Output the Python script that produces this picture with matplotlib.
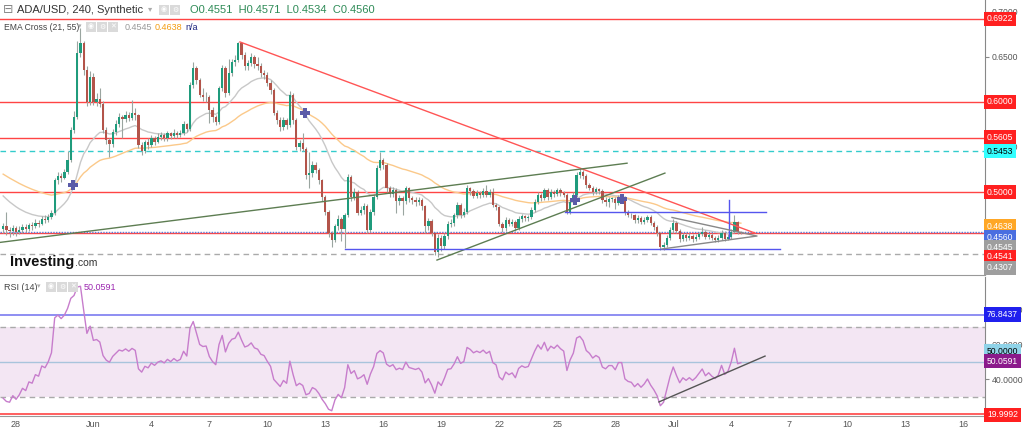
import matplotlib
matplotlib.use("Agg")
import matplotlib.pyplot as plt
import matplotlib.dates as mdates
import matplotlib.transforms as mtransforms
import numpy as np
import pandas as pd

plt.rcParams['font.family'] = ['Liberation Sans', 'DejaVu Sans']

# 4h candles, ADA/USD
start = "2019-05-27 08:00"
open_first = 0.459
close = [.462, .458, .457, .460, .456, .458, .461, .459, .463, .462,
         .466, .465, .470, .469, .472, .477, .513, .518, .516, .522,
         .536, .569, .583, .654, .665, .636, .600, .628, .600, .603,
         .598, .569, .558, .553, .567, .575, .583, .581, .586, .582,
         .588, .585, .552, .545, .555, .552, .560, .556, .561, .563,
         .560, .565, .562, .566, .563, .565, .575, .570, .619, .638,
         .624, .608, .605, .606, .591, .583, .578, .615, .638, .610,
         .632, .644, .647, .665, .652, .640, .643, .650, .642, .640,
         .632, .630, .621, .613, .588, .580, .572, .580, .574, .608,
         .580, .550, .554, .548, .519, .521, .530, .525, .513, .494,
         .478, .454, .447, .462, .470, .459, .474, .517, .494, .500,
         .477, .480, .485, .458, .478, .494, .527, .535, .530, .504,
         .498, .502, .490, .493, .490, .504, .493, .491, .489, .491,
         .484, .462, .468, .454, .433, .449, .440, .451, .465, .466,
         .474, .486, .475, .478, .504, .501, .496, .499, .497, .501,
         .497, .500, .486, .483, .465, .460, .469, .465, .467, .460,
         .470, .473, .471, .472, .480, .489, .497, .493, .502, .494,
         .500, .498, .502, .499, .497, .478, .489, .497, .519, .522,
         .518, .508, .505, .500, .503, .501, .491, .489, .492, .492,
         .488, .494, .494, .478, .475, .474, .469, .471, .467, .469,
         .472, .466, .461, .454, .439, .441, .449, .458, .466, .457,
         .448, .452, .449, .451, .448, .450, .453, .456, .450, .452,
         .449, .447, .449, .455, .448, .450, .456, .467, .4551, .4560]
high = [.466, .478, .461, .463, .462, .462, .464, .465, .466, .467,
        .470, .469, .473, .474, .476, .480, .516, .522, .521, .526,
        .546, .572, .590, .668, .682, .668, .640, .634, .632, .610,
        .615, .601, .572, .560, .570, .580, .588, .586, .590, .589,
        .602, .593, .587, .555, .558, .560, .563, .562, .565, .567,
        .566, .568, .567, .570, .568, .569, .579, .577, .622, .644,
        .640, .627, .615, .611, .608, .594, .586, .618, .641, .640,
        .648, .648, .652, .667, .666, .655, .647, .654, .652, .650,
        .643, .635, .633, .624, .615, .591, .583, .583, .582, .612,
        .610, .582, .558, .565, .550, .544, .534, .533, .527, .515,
        .497, .480, .457, .465, .474, .472, .477, .520, .519, .504,
        .502, .484, .488, .487, .481, .497, .530, .544, .538, .532,
        .507, .506, .504, .497, .496, .507, .506, .496, .494, .495,
        .493, .486, .471, .470, .456, .453, .452, .454, .468, .470,
        .477, .489, .488, .482, .508, .506, .503, .502, .501, .504,
        .508, .503, .504, .488, .485, .467, .472, .471, .470, .469,
        .473, .476, .475, .475, .483, .492, .500, .499, .505, .504,
        .503, .502, .505, .504, .501, .499, .492, .500, .522, .527,
        .525, .520, .510, .507, .506, .505, .503, .494, .495, .495,
        .494, .497, .497, .496, .480, .477, .476, .474, .473, .472,
        .475, .474, .468, .463, .456, .444, .452, .461, .470, .468,
        .459, .455, .454, .454, .453, .453, .456, .461, .458, .455,
        .454, .451, .452, .458, .457, .453, .459, .474, .468, .4571]
low = [.455, .452, .450, .452, .451, .453, .455, .456, .457, .458,
       .460, .461, .463, .466, .467, .470, .475, .509, .511, .514,
       .520, .533, .565, .581, .650, .630, .596, .597, .597, .596,
       .594, .566, .553, .539, .550, .563, .572, .560, .578, .579,
       .580, .580, .549, .541, .543, .548, .550, .552, .554, .558,
       .557, .557, .559, .560, .560, .561, .563, .567, .568, .616,
       .620, .605, .601, .600, .577, .578, .574, .576, .612, .606,
       .608, .629, .640, .644, .648, .636, .636, .640, .638, .636,
       .628, .626, .618, .609, .585, .575, .568, .569, .570, .572,
       .576, .547, .546, .545, .515, .504, .517, .521, .509, .490,
       .474, .450, .439, .444, .458, .446, .438, .472, .490, .491,
       .474, .474, .476, .455, .456, .475, .492, .524, .526, .500,
       .494, .495, .477, .486, .474, .487, .489, .487, .485, .486,
       .480, .455, .458, .451, .430, .428, .435, .437, .448, .461,
       .462, .471, .471, .472, .476, .497, .493, .493, .493, .494,
       .494, .494, .483, .480, .462, .456, .457, .462, .462, .457,
       .458, .467, .468, .468, .470, .478, .487, .490, .491, .491,
       .492, .495, .496, .496, .494, .476, .476, .487, .495, .516,
       .514, .505, .502, .497, .498, .498, .488, .485, .483, .489,
       .481, .486, .491, .475, .472, .471, .466, .466, .464, .464,
       .467, .463, .458, .451, .436, .436, .439, .447, .455, .455,
       .445, .446, .446, .447, .445, .446, .448, .451, .448, .448,
       .447, .445, .445, .447, .446, .447, .448, .454, .453, .4534]

# indicator seeds (state before first visible candle)
ema_fast_seed, ema_slow_seed = 0.499, 0.522
rsi_gain_seed, rsi_loss_seed = 0.0012, 0.0035

# horizontal levels
red_levels = [0.6922, 0.6000, 0.5605, 0.5000, 0.4541]
cyan_level = 0.5453
last_price = 0.4560
gray_level = 0.4307

# drawn lines: (time, price)
red_trend_t = ["2019-06-08 14:00", "2019-07-05 05:30"]
red_trend_p = [0.6667, 0.4544]
green_long_t = ["2019-05-27 04:00", "2019-06-28 14:40"]
green_long_p = [0.444, 0.532]
green_short_t = ["2019-06-18 18:40", "2019-06-30 13:40"]
green_short_p = [0.4244, 0.521]
blue_low_t = ["2019-06-14 00:30", "2019-07-06 12:30"]
blue_low_p = [0.4367, 0.4367]
blue_up_t = ["2019-06-25 09:40", "2019-07-05 19:00"]
blue_up_p = [0.478, 0.478]
blue_vert_t = ["2019-07-03 21:20", "2019-07-03 21:20"]
blue_vert_p = [0.449, 0.491]
tri_t = ["2019-06-30 22:30", "2019-07-05 08:00", "2019-06-30 10:00"]
tri_p = [0.4717, 0.4511, 0.4367]
cross_t = ["2019-05-30 22:45", "2019-06-11 22:50", "2019-06-25 22:00", "2019-06-28 08:25"]
cross_p = [0.508, 0.588, 0.491, 0.492]
rsi_trend_t = ["2019-06-30 06:15", "2019-07-05 18:00"]
rsi_trend_v = [26.9, 53.1]

tick_dates = ["2019-05-28", "2019-06-01", "2019-06-04", "2019-06-07", "2019-06-10",
              "2019-06-13", "2019-06-16", "2019-06-19", "2019-06-22", "2019-06-25",
              "2019-06-28", "2019-07-01", "2019-07-04", "2019-07-07", "2019-07-10",
              "2019-07-13", "2019-07-16"]
tick_labels = ["28", "Jun", "4", "7", "10", "13", "16", "19", "22", "25", "28",
               "Jul", "4", "7", "10", "13", "16"]
price_ticks = [0.55, 0.65, 0.70]
rsi_ticks = [40, 60, 80]

# ---------------------------------------------------------------
times = pd.date_range(start, periods=len(close), freq="4h")
x = mdates.date2num(times)
c = np.array(close)
o = np.array([open_first] + close[:-1])
h = np.array(high)
l = np.array(low)

def ema(vals, n, seed):
    a = 2 / (n + 1)
    out = []
    e = seed
    for v in vals:
        e = a * v + (1 - a) * e
        out.append(e)
    return np.array(out)

ema21 = ema(c, 21, ema_fast_seed)
ema55 = ema(c, 55, ema_slow_seed)

ag, al = rsi_gain_seed, rsi_loss_seed
prev = open_first
rsi = []
for v in c:
    ch = v - prev
    ag = (ag * 13 + max(ch, 0)) / 14
    al = (al * 13 + max(-ch, 0)) / 14
    rsi.append(100 - 100 / (1 + ag / al))
    prev = v
rsi = np.array(rsi)

def tx(lst):
    return mdates.date2num(pd.to_datetime(lst))

W, H = 1024, 429
fig = plt.figure(figsize=(W / 100, H / 100), dpi=100)
ax = fig.add_axes([0, 1 - 275 / H, 985 / W, 275 / H])
ax2 = fig.add_axes([0, 1 - 416 / H, 985 / W, 139 / H], sharex=ax)

base = mdates.date2num(pd.Timestamp("2019-05-28"))
ax.set_xlim(base - 0.83, base + 50.13)
ax.set_ylim(0.4078, 0.7133)
ax2.set_ylim(18.86, 98.3)

green, red = "#1f9b7c", "#b3544a"
cols = np.where(c >= o, green, red)
ax.vlines(x, l, h, color="#9aa5a0", lw=0.8, zorder=3)
body = np.maximum(np.abs(c - o), 0.0008)
ax.bar(x, body, bottom=np.minimum(o, c), width=0.12, color=cols, linewidth=0, zorder=4)

ax.plot(x, ema21, color="#c8c8c8", lw=1, zorder=2)
ax.plot(x, ema55, color="#fbc98a", lw=1, zorder=2)

for lv in red_levels:
    ax.axhline(lv, color="#ff4444", lw=1, zorder=1)
ax.axhline(cyan_level, color="#33cccc", lw=1, ls=(0, (4, 3)), zorder=1)
ax.axhline(last_price, color="#5a7fdc", lw=1, ls=(0, (1, 1)), zorder=1)
ax.axhline(gray_level, color="#aaaaaa", lw=1, ls=(0, (4, 3)), zorder=1)

ax.plot(tx(red_trend_t), red_trend_p, color="#ff5555", lw=1, zorder=5)
ax.plot(tx(green_long_t), green_long_p, color="#5d7d52", lw=1, zorder=5)
ax.plot(tx(green_short_t), green_short_p, color="#5d7d52", lw=1, zorder=5)
ax.plot(tx(blue_low_t), blue_low_p, color="#5555ee", lw=1, zorder=5)
ax.plot(tx(blue_up_t), blue_up_p, color="#5555ee", lw=1, zorder=5)
ax.plot(tx(blue_vert_t), blue_vert_p, color="#5555ee", lw=1, zorder=5)
tt = tx(tri_t)
ax.plot([tt[0], tt[1], tt[2]], [tri_p[0], tri_p[1], tri_p[2]], color="#888888", lw=1, zorder=5)
ax.plot(tx(cross_t), cross_p, ls="none", marker="P", ms=7, color="#5b5ba8",
        markeredgewidth=0, zorder=6)

# RSI panel
ax2.axhspan(30, 70, color="#f3e6f3", lw=0, zorder=0)
ax2.axhline(70, color="#aaaaaa", lw=1, ls=(0, (4, 3)))
ax2.axhline(30, color="#aaaaaa", lw=1, ls=(0, (4, 3)))
ax2.axhline(76.8437, color="#7b7bf0", lw=1.2)
ax2.axhline(50, color="#a8c4dc", lw=1)
ax2.axhline(20, color="#ff4444", lw=1.2)
ax2.plot(x, rsi, color="#c77dcc", lw=1, zorder=3)
ax2.plot(tx(rsi_trend_t), rsi_trend_v, color="#555555", lw=1, zorder=4)

for a in (ax, ax2):
    for s in ("top", "left"):
        a.spines[s].set_visible(False)
    a.spines["right"].set_color("#888888")
    a.spines["bottom"].set_color("#999999")
    a.yaxis.tick_right()
    a.tick_params(axis="y", length=3, color="#888888", labelsize=6.2,
                  labelcolor="#555555", pad=2)

ax.set_yticks(price_ticks)
ax.set_yticklabels([f"{v:.4f}" for v in price_ticks])
ax.tick_params(axis="x", length=0, labelbottom=False)
ax2.set_yticks(rsi_ticks)
ax2.set_yticklabels([f"{v:.4f}" for v in rsi_ticks])
ax2.set_xticks(tx(tick_dates))
ax2.set_xticklabels(tick_labels)
ax2.tick_params(axis="x", length=0, labelsize=6.5, labelcolor="#555555", pad=3)

def tag(a, y, txt, fc, tcol="white"):
    tr = mtransforms.blended_transform_factory(a.transAxes, a.transData)
    a.text(1.002, y, txt, transform=tr, fontsize=6.2, color=tcol, va="center", ha="left",
           bbox=dict(boxstyle="square,pad=0.3", fc=fc, ec="none"), clip_on=False, zorder=10)

tag(ax, 0.6922, "0.6922", "#ff2020")
tag(ax, 0.6000, "0.6000", "#ff2020")
tag(ax, 0.5605, "0.5605", "#ff2020")
tag(ax, 0.5453, "0.5453", "#33ffff", "black")
tag(ax, 0.5000, "0.5000", "#ff2020")
tag(ax, 0.4622, "0.4638", "#ffa726")
tag(ax, 0.4500, "0.4560", "#4a6ee0")
tag(ax, 0.4389, "0.4545", "#9e9e9e")
tag(ax, 0.4278, "0.4541", "#ff2020")
tag(ax, 0.4156, "0.4307", "#9e9e9e")
tag(ax2, 76.8437, "76.8437", "#2020ee")
tag(ax2, 55.8, "50.0000", "#8fd3e8", "black")
tag(ax2, 50.0591, "50.0591", "#8b1a8b")
tag(ax2, 19.6, "19.9992", "#ff2020")

# header texts
def ft(px, py, s, **kw):
    fig.text(px / W, 1 - py / H, s, va="center", **kw)

ft(3, 10, "⊟", fontsize=9, color="#888888")
ft(17, 10, "ADA/USD, 240, Synthetic", fontsize=8, color="#333333")
ft(148, 10, "▾", fontsize=6, color="#aaaaaa")
ft(190, 10, "O0.4551  H0.4571  L0.4534  C0.4560", fontsize=8, color="#2e8b57")
ft(4, 27, "EMA Cross (21, 55)", fontsize=6.2, color="#444444")
ft(78, 27, "▾", fontsize=5, color="#aaaaaa")
ft(125, 27, "0.4545", fontsize=6.5, color="#999999")
ft(155, 27, "0.4638", fontsize=6.5, color="#f39c12")
ft(185, 27, "n/a", fontsize=6.5, color="#1a237e")
ft(4, 287, "RSI (14)", fontsize=6.5, color="#444444")
ft(37, 287, "▾", fontsize=5, color="#aaaaaa")
ft(84, 287, "50.0591", fontsize=6.5, color="#9c27b0")
for px, py, g in [(161, 10, "◉"), (172, 10, "⚙"), (88, 27, "◉"), (99, 27, "⚙"),
                  (110, 27, "✕"), (48, 287, "◉"), (59, 287, "⚙"), (70, 287, "✕")]:
    ft(px, py, g, fontsize=5, color="white",
       bbox=dict(boxstyle="square,pad=0.25", fc="#dadada", ec="none"))

ft(10, 262, "Investing", fontsize=10.5, fontweight="bold", color="#111111")
ft(75, 263, ".com", fontsize=7.5, color="#333333")

fig.savefig("out.png", dpi=100)
